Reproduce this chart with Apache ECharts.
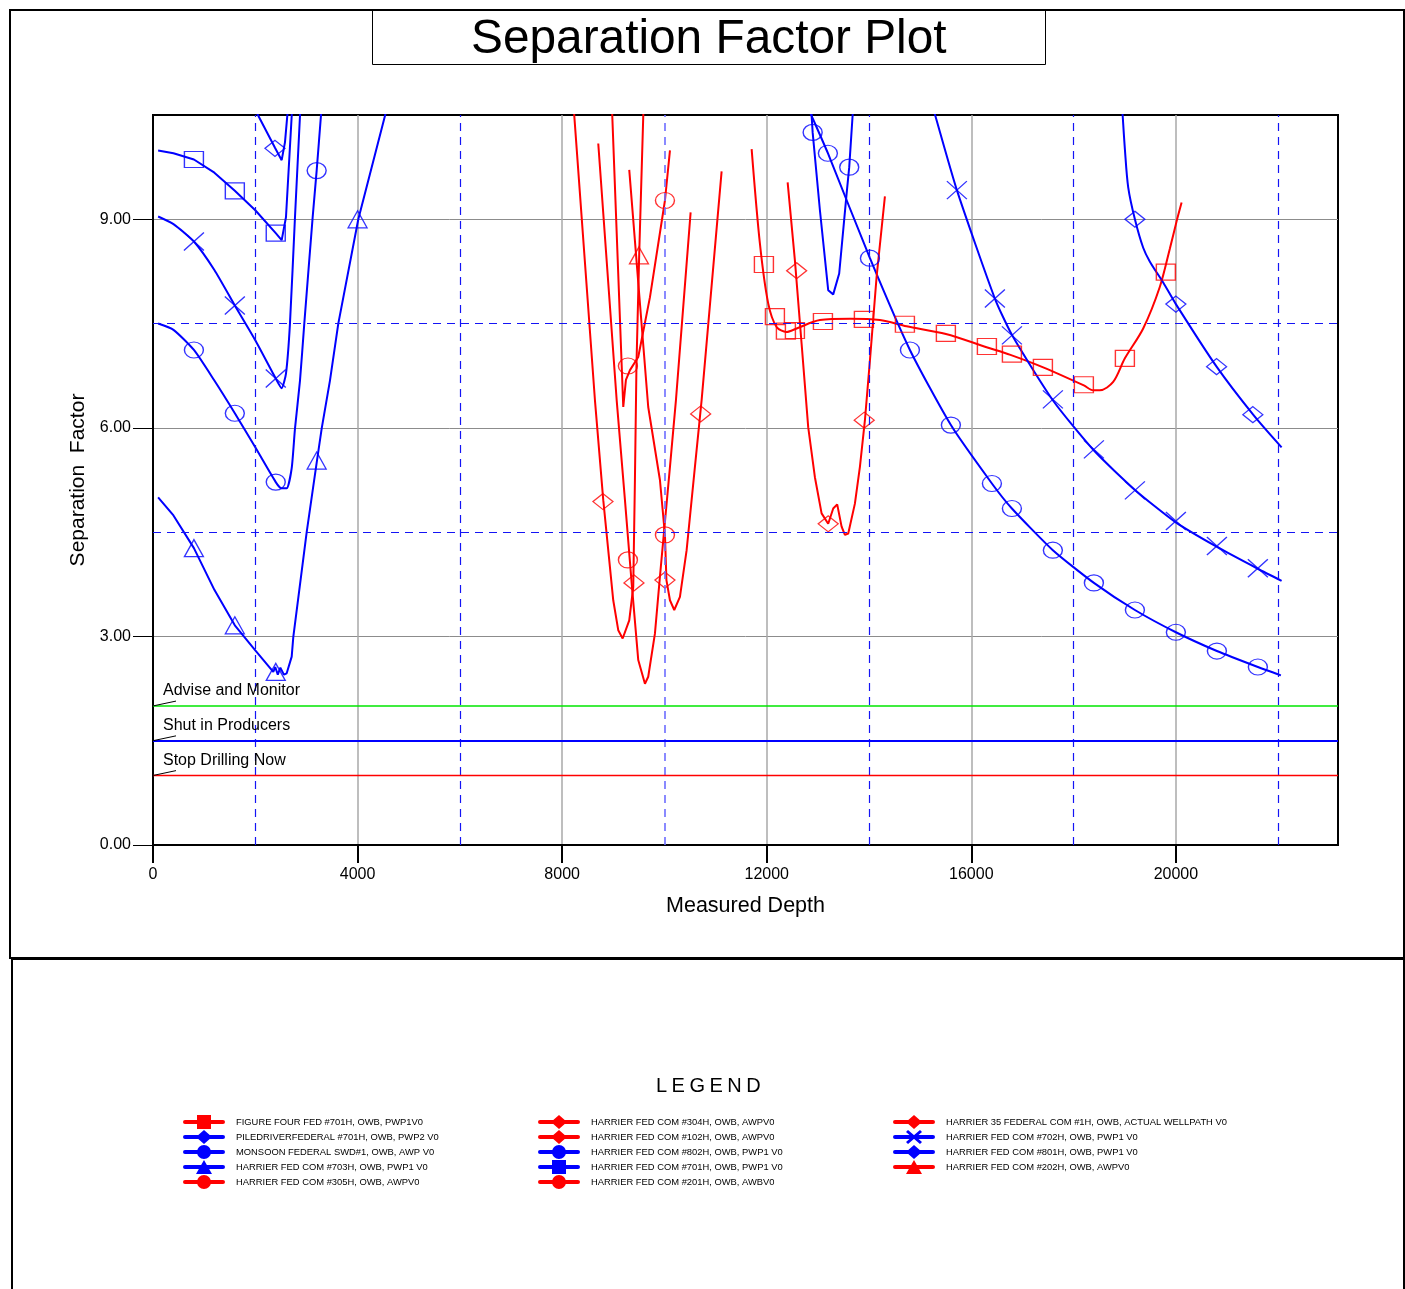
<!DOCTYPE html>
<html><head><meta charset="utf-8">
<script src="https://cdn.jsdelivr.net/npm/echarts@6/dist/echarts.min.js"></script>
<style>html,body{margin:0;padding:0;background:#fff}#c{width:1405px;height:1289px}</style>
</head><body><div id="c"></div>
<script>
// ---------- axis settings ----------
const xMax = 23170, yMax = 10.5;
const xTicks = [0, 4000, 8000, 12000, 16000, 20000];
const yTicks = [0, 3, 6, 9];
const xRefs = [2000, 6000, 10000, 14000, 18000, 22000];
const yRefs = [4.5, 7.5];
const thresholds = [2.0, 1.5, 1.0];
const thresholdNames = ['Advise and Monitor', 'Shut in Producers', 'Stop Drilling Now'];

// ---------- curves (measured depth, separation factor) ----------
const ff701 = [[11705,10.01],[11867,8.65],[12029,7.79],[12193,7.45],[12389,7.38],[12585,7.43],[13040,7.55],[13627,7.57],[14213,7.55],[14735,7.46],[15503,7.35],[16299,7.16],[16765,7.05],[17406,6.87],[18201,6.61],[18383,6.54],[18514,6.54],[18774,6.66],[19003,7.00],[19361,7.43],[19687,8.03],[19883,8.58],[20014,8.97],[20112,9.24]];
const ff701Marks = [[11945,8.35],[12160,7.60],[12375,7.39],[12551,7.40],[13099,7.53],[13900,7.56],[14702,7.49],[15503,7.36],[16305,7.17],[16794,7.06],[17400,6.87],[18201,6.62],[19003,7.00],[19804,8.24]];

const pile701 = [[18914,11],[18958,10.51],[19003,10.01],[19068,9.46],[19199,9.00],[19361,8.59],[19492,8.39],[19752,8.09],[20000,7.78],[20796,6.88],[21511,6.19],[22067,5.72]];
const pile701Marks = [[19199,9.00],[20000,7.78],[20796,6.88],[21505,6.19]];

const monsoon = [[12816,11],[12878,10.49],[12898,10.25],[13040,9.13],[13202,7.98],[13300,7.92],[13417,8.22],[13562,9.37],[13613,9.75],[13679,10.49],[13729,11]];
const monsoonMarks = [[12898,10.25],[13613,9.75]];

const h703 = [[100,5.00],[400,4.74],[800,4.27],[1200,3.67],[1600,3.16],[2000,2.80],[2352,2.49],[2390,2.56],[2440,2.45],[2490,2.55],[2560,2.45],[2614,2.47],[2712,2.71],[2743,2.99],[3005,4.50],[3206,5.53],[3298,5.99],[3460,6.68],[3623,7.50],[4014,9.00],[4536,10.49],[4715,11]];
const h703Marks = [[800,4.27],[1600,3.16],[2400,2.49],[3200,5.53],[4000,9.00]];

const h305 = [[8954,11],[8980,10.49],[9195,6.30],[9247,6.69],[9326,6.83],[9488,7.02],[9717,7.88],[10010,9.27],[10108,9.99]];
const h305Marks = [[9286,6.89],[10010,9.27]];

const h304 = [[8706,10.09],[9066,6.40],[9228,4.96],[9359,3.77],[9488,2.66],[9619,2.32],[9683,2.42],[9814,3.04],[9912,3.86],[10108,5.44],[10225,6.40],[10512,9.10]];
const h304Marks = [[8798,4.94],[9404,3.77]];

const h102 = [[9312,9.71],[9683,6.30],[9912,5.25],[10010,4.46],[10039,3.81],[10108,3.52],[10192,3.38],[10303,3.57],[10434,4.24],[10596,5.44],[10727,6.40],[11118,9.69]];
const h102Marks = [[10010,3.81],[10708,6.20]];

const h802Left = [[100,7.50],[400,7.41],[800,7.12],[1200,6.68],[1600,6.21],[2000,5.72],[2400,5.22],[2516,5.13],[2614,5.13],[2712,5.42],[2776,5.99],[2874,6.68],[2958,7.50],[3122,9.03],[3200,9.70],[3284,10.49],[3338,11]];
const h802Right = [[12574,11],[12876,10.49],[13196,9.95],[14018,8.44],[14800,7.12],[15601,6.04],[16403,5.20],[16794,4.84],[17595,4.24],[18397,3.77],[19199,3.38],[20000,3.06],[20802,2.79],[21603,2.56],[22053,2.44]];
const h802Marks = [[800,7.12],[1600,6.21],[2400,5.22],[3200,9.70],[13196,9.95],[14018,8.44],[14800,7.12],[15601,6.04],[16403,5.20],[16794,4.84],[17595,4.24],[18397,3.77],[19199,3.38],[20000,3.06],[20802,2.79],[21603,2.56]];

const h701 = [[100,9.99],[400,9.95],[800,9.86],[1200,9.67],[1600,9.41],[2000,9.13],[2400,8.80],[2516,8.70],[2600,9.03],[2712,10.49],[2751,11]];
const h701Marks = [[800,9.86],[1600,9.41],[2400,8.80]];

const h201 = [];
const h201Marks = [[9286,4.10],[10010,4.46]];

const h35 = [[12409,9.53],[12551,8.41],[12682,7.21],[12811,6.01],[12942,5.29],[13073,4.77],[13202,4.62],[13300,4.84],[13378,4.90],[13464,4.58],[13529,4.46],[13594,4.48],[13724,4.91],[13822,5.44],[13920,6.11],[14018,6.97],[14148,8.17],[14311,9.33]];
const h35Marks = [[12585,8.26],[13202,4.62],[13906,6.11]];

const h702Left = [[100,9.04],[400,8.93],[800,8.68],[1200,8.27],[1600,7.76],[2000,7.26],[2400,6.71],[2515,6.57],[2600,6.78],[2678,7.50],[2776,9.03],[2874,10.49],[2908,11]];
const h702Right = [[15095,11],[15288,10.51],[15718,9.42],[16461,7.86],[16807,7.32],[17601,6.39],[18403,5.67],[19212,5.10],[20000,4.64],[20796,4.29],[21610,3.97],[22067,3.80]];
const h702Marks = [[800,8.68],[1600,7.76],[2400,6.71],[15718,9.42],[16461,7.86],[16794,7.33],[17595,6.41],[18397,5.69],[19199,5.10],[20000,4.66],[20802,4.30],[21603,3.98]];

const h801 = [[1697,11],[2059,10.49],[2385,10.03],[2516,9.85],[2581,10.11],[2626,10.49],[2687,11]];
const h801Marks = [[2385,10.02]];

const h202 = [[8187,11],[8237,10.49],[8641,6.40],[8804,4.96],[8999,3.52],[9097,3.09],[9183,2.97],[9312,3.23],[9390,3.71],[9423,5.25],[9453,6.90],[9507,8.51],[9586,10.49],[9610,11]];
const h202Marks = [[9502,8.48]];

// ---------- well table (legend order) ----------
const RED = '#ff0000', BLUE = '#0000ff';
const wells = [
  {name:'FIGURE FOUR FED #701H, OWB, PWP1V0', color:RED, sym:'square', lines:[ff701], marks:ff701Marks, smooth:0.3},
  {name:'PILEDRIVERFEDERAL #701H, OWB, PWP2 V0', color:BLUE, sym:'diamond', lines:[pile701], marks:pile701Marks, smooth:0.3},
  {name:'MONSOON FEDERAL SWD#1, OWB, AWP V0', color:BLUE, sym:'circle', lines:[monsoon], marks:monsoonMarks},
  {name:'HARRIER FED COM #703H, OWB, PWP1 V0', color:BLUE, sym:'triangle', lines:[h703], marks:h703Marks},
  {name:'HARRIER FED COM #305H, OWB, AWPV0', color:RED, sym:'circle', lines:[h305], marks:h305Marks},
  {name:'HARRIER FED COM #304H, OWB, AWPV0', color:RED, sym:'diamond', lines:[h304], marks:h304Marks},
  {name:'HARRIER FED COM #102H, OWB, AWPV0', color:RED, sym:'diamond', lines:[h102], marks:h102Marks},
  {name:'HARRIER FED COM #802H, OWB, PWP1 V0', color:BLUE, sym:'circle', lines:[h802Left, h802Right], marks:h802Marks, smooth:0.2},
  {name:'HARRIER FED COM #701H, OWB, PWP1 V0', color:BLUE, sym:'square', lines:[h701], marks:h701Marks},
  {name:'HARRIER FED COM #201H, OWB, AWBV0', color:RED, sym:'circle', lines:[h201], marks:h201Marks},
  {name:'HARRIER 35 FEDERAL COM #1H, OWB, ACTUAL WELLPATH V0', color:RED, sym:'diamond', lines:[h35], marks:h35Marks},
  {name:'HARRIER FED COM #702H, OWB, PWP1 V0', color:BLUE, sym:'cross', lines:[h702Left, h702Right], marks:h702Marks, smooth:0.2},
  {name:'HARRIER FED COM #801H, OWB, PWP1 V0', color:BLUE, sym:'diamond', lines:[h801], marks:h801Marks},
  {name:'HARRIER FED COM #202H, OWB, AWPV0', color:RED, sym:'triangle', lines:[h202], marks:h202Marks}
];

const FONT = 'Liberation Sans, Arial, sans-serif';
const markerSymbol = {
  square:'rect', circle:'circle', diamond:'diamond', triangle:'triangle',
  cross:'path://M0,0L20,18M20,0L0,18'
};
const markerSize = {square:[19,16], circle:[19,16], diamond:[20,16], triangle:[19,17], cross:[20,18]};
const BAR = 'M2,5 L40,5 A2,2 0 0 1 40,9 L2,9 A2,2 0 0 1 2,5 Z ';
const legendShape = {
  square:'M14,0 L28,0 L28,14 L14,14 Z',
  circle:'M14,7 A7,7 0 1 1 28,7 A7,7 0 1 1 14,7 Z',
  diamond:'M21,0 L29,7 L21,14 L13,7 Z',
  triangle:'M21,0 L29,14 L13,14 Z',
  cross:'M13,2 L15,0 L29,12 L27,14 Z M27,0 L29,2 L15,14 L13,12 Z'
};

const series = [];
function refSeries(items, lineStyle, label) {
  return {type:'line', name:'_ref', data:[], silent:true, z:1,
    markLine:{symbol:'none', silent:true, animation:false, lineStyle:lineStyle,
      label: label || {show:false}, data:items}};
}
// dashed reference grid
xRefs.forEach(v => {
  const col = v === 10000 ? '#6d6dff' : '#1414f5';
  series.push(refSeries([{xAxis:v}], {color:col, type:[8,6], width: v === 10000 ? 1.6 : 1.2}));
});
yRefs.forEach(v => series.push(refSeries([{yAxis:v}], {color:'#1414f5', type:[8,6], width:1.2})));
// thresholds with labels and leader ticks
const thrColors = ['#00e600', '#0000ff', '#ff0000'];
const thrWidths = [1.5, 2, 1.4];
thresholds.forEach((v, i) => {
  series.push(refSeries([{yAxis:v}], {color:thrColors[i], type:'solid', width:thrWidths[i]},
    {show:true, position:'insideStartTop', formatter:thresholdNames[i], color:'#000', fontSize:16, fontFamily:FONT, distance:[10,7]}));
  series.push(refSeries([[{coord:[0, v]}, {coord:[450, v + 0.07]}]], {color:'#000', type:'solid', width:1}));
});

wells.forEach(w => {
  w.lines.forEach(seg => {
    series.push({type:'line', name:w.name, data:seg, showSymbol:false, symbol:'none', smooth:w.smooth||false,
      lineStyle:{color:w.color, width:2}, itemStyle:{color:w.color}, z:3, silent:true, clip:true});
  });
});
wells.forEach(w => {
  series.push({type:'scatter', name:w.name, data:w.marks, symbol:markerSymbol[w.sym], symbolSize:markerSize[w.sym],
    itemStyle:{color:'rgba(0,0,0,0)', borderColor:w.color, borderWidth:1.3}, z:4, silent:true, clip:false});
});

function legendCol(idx, left) {
  return {orient:'vertical', left:left, top:1115, padding:0, itemWidth:42, itemHeight:14, itemGap:1, selectedMode:false,
    textStyle:{fontSize:9.4, fontFamily:FONT, color:'#000', padding:[0,0,0,6]},
    itemStyle:{borderWidth:0},
    data: idx.map(i => ({name:wells[i].name, icon:'path://' + BAR + legendShape[wells[i].sym], itemStyle:{color:wells[i].color, borderWidth:0}}))};
}

const option = {
  animation:false,
  backgroundColor:'#fff',
  title:[
    {text:'Separation Factor Plot', left:372, top:10, padding:[6,99,1,99], borderColor:'#000', borderWidth:1,
     textStyle:{fontSize:47.8, fontWeight:'normal', fontFamily:FONT, color:'#000'}},
    {text:'{s|L}{s|E}{s|G}{s|E}{s|N}{e|D}', left:656, top:1076, padding:0,
     textStyle:{fontSize:20, fontWeight:'normal', fontFamily:FONT, color:'#000',
       rich:{s:{fontSize:20, fontFamily:FONT, color:'#000', padding:[0,4.5,0,0]}, e:{fontSize:20, fontFamily:FONT, color:'#000'}}}}
  ],
  graphic:[
    {type:'rect', shape:{x:10, y:10, width:1394, height:948}, style:{fill:'none', stroke:'#000', lineWidth:2}, silent:true, z:0},
    {type:'rect', shape:{x:12, y:959, width:1392, height:340}, style:{fill:'none', stroke:'#000', lineWidth:2}, silent:true, z:0}
  ],
  legend:[legendCol([0,1,2,3,4],183), legendCol([5,6,7,8,9],538), legendCol([10,11,12,13],893)],
  grid:{left:153, right:67, top:115, bottom:444, show:true, borderColor:'#000', borderWidth:2, backgroundColor:'transparent'},
  xAxis:{type:'value', min:0, max:xMax, interval:4000,
    name:'Measured Depth', nameLocation:'middle', nameGap:50, nameTextStyle:{fontSize:21.5, fontFamily:FONT, color:'#000'},
    axisLine:{show:true, lineStyle:{color:'#000', width:2}},
    axisTick:{show:true, length:18, lineStyle:{color:'#000', width:2}, customValues:xTicks},
    axisLabel:{fontSize:16, fontFamily:FONT, color:'#000', margin:22, customValues:xTicks, formatter:v => String(v)},
    splitLine:{show:true, lineStyle:{color:'#a8a8a8', width:1.5}}},
  yAxis:{type:'value', min:0, max:yMax, interval:3,
    name:'Separation  Factor', nameLocation:'middle', nameGap:60, nameTextStyle:{fontSize:21, fontFamily:FONT, color:'#000'},
    axisLine:{show:true, lineStyle:{color:'#000', width:2}},
    axisTick:{show:true, length:20, lineStyle:{color:'#000', width:1}, customValues:yTicks},
    axisLabel:{fontSize:16, fontFamily:FONT, color:'#000', margin:22, customValues:yTicks, formatter:v => Number(v).toFixed(2)},
    splitLine:{show:true, lineStyle:{color:'#8c8c8c', width:1}}},
  series:series
};
const chart = echarts.init(document.getElementById('c'), null, {renderer:'canvas'});
chart.setOption(option);
</script></body></html>
